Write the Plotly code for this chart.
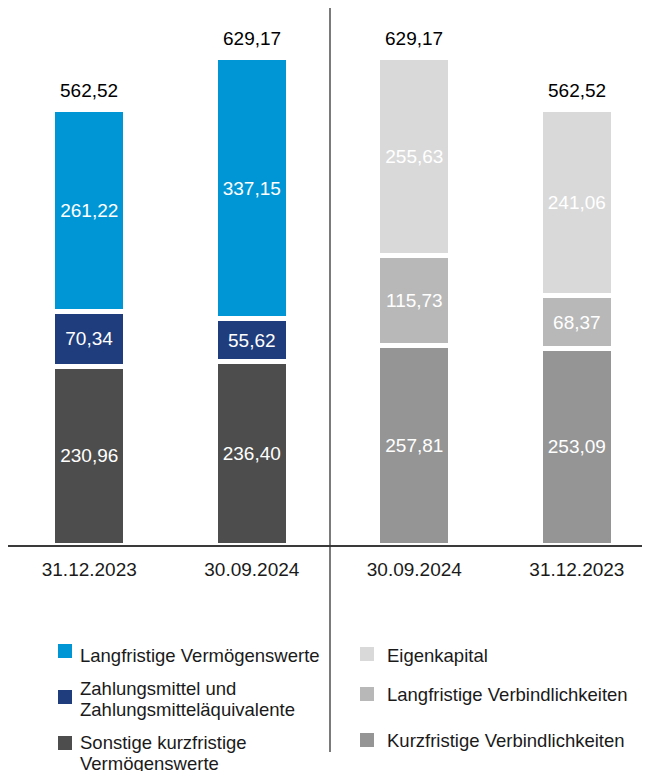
import plotly.graph_objects as go

# ---------------- data ----------------
categories = ["31.12.2023", "30.09.2024", "30.09.2024", "31.12.2023"]
asset_x = [0, 1]
liab_x = [2, 3]

sonstige_kurzfr = [230.96, 236.40]
zahlungsmittel = [70.34, 55.62]
langfr_vermoegen = [261.22, 337.15]

kurzfr_verbindl = [257.81, 253.09]
langfr_verbindl = [115.73, 68.37]
eigenkapital = [255.63, 241.06]

asset_names = ["Sonstige kurzfristige Vermögenswerte",
               "Zahlungsmittel und Zahlungsmitteläquivalente",
               "Langfristige Vermögenswerte"]
liab_names = ["Kurzfristige Verbindlichkeiten",
              "Langfristige Verbindlichkeiten",
              "Eigenkapital"]

asset_colors = ["#4D4D4D", "#1F3D7C", "#0096D6"]
liab_colors = ["#959595", "#B8B8B8", "#D9D9D9"]

# legend lines (display text, wrapped as in the original)
legend_left = [["Langfristige Vermögenswerte"],
               ["Zahlungsmittel und", "Zahlungsmitteläquivalente"],
               ["Sonstige kurzfristige", "Vermögenswerte"]]
legend_left_colors = ["#0096D6", "#1F3D7C", "#4D4D4D"]
legend_right = [["Eigenkapital"],
                ["Langfristige Verbindlichkeiten"],
                ["Kurzfristige Verbindlichkeiten"]]
legend_right_colors = ["#D9D9D9", "#B8B8B8", "#959595"]


def fmt(v):
    return f"{v:.2f}".replace(".", ",")


FONT = "Liberation Sans, Arial, sans-serif"
fig = go.Figure()

for name, vals, col in zip(asset_names,
                           [sonstige_kurzfr, zahlungsmittel, langfr_vermoegen],
                           asset_colors):
    fig.add_trace(go.Bar(x=asset_x, y=vals, name=name, marker_color=col,
                         marker_line=dict(color="white", width=5),
                         text=[fmt(v) for v in vals], textposition="inside",
                         insidetextanchor="middle", constraintext="none",
                         textfont=dict(color="white", size=19, family=FONT),
                         width=0.45, showlegend=False))

for name, vals, col in zip(liab_names,
                           [kurzfr_verbindl, langfr_verbindl, eigenkapital],
                           liab_colors):
    fig.add_trace(go.Bar(x=liab_x, y=vals, name=name, marker_color=col,
                         marker_line=dict(color="white", width=5),
                         text=[fmt(v) for v in vals], textposition="inside",
                         insidetextanchor="middle", constraintext="none",
                         textfont=dict(color="white", size=19, family=FONT),
                         width=0.45, showlegend=False))

asset_tot = [a + b + c for a, b, c in zip(sonstige_kurzfr, zahlungsmittel, langfr_vermoegen)]
liab_tot = [a + b + c for a, b, c in zip(kurzfr_verbindl, langfr_verbindl, eigenkapital)]
totals_x = asset_x + liab_x
totals = asset_tot + liab_tot

# page offset (browser body margin) and figure geometry
OFF = 8
W, H = 650 - OFF, 771 - OFF
ml, mr, mt, mb = 0, 0, 0, H - (545 - OFF)
pw, ph = W - ml - mr, H - mt - mb


def px_x(page_x):
    return (page_x - OFF - ml) / pw


def px_y(page_y):
    return (H - mb - (page_y - OFF)) / ph


shapes = []
annotations = []

# totals above bars
for xv, tv in zip(totals_x, totals):
    annotations.append(dict(x=xv, y=tv, text=fmt(tv), showarrow=False,
                            xanchor="center", yanchor="bottom", yshift=6,
                            font=dict(color="black", size=19, family=FONT)))

# vertical divider
shapes.append(dict(type="line", xref="paper", yref="paper",
                   x0=px_x(330), x1=px_x(330), y0=px_y(8), y1=px_y(752),
                   line=dict(color="#333333", width=1.3)))


# custom legend
def add_legend(items, colors, sq_x, txt_x, line_ys, sq_ys):
    for lines, col, ly, sy in zip(items, colors, line_ys, sq_ys):
        shapes.append(dict(type="rect", xref="paper", yref="paper",
                           x0=px_x(sq_x), x1=px_x(sq_x + 14),
                           y0=px_y(sy + 7), y1=px_y(sy - 7),
                           fillcolor=col, line=dict(width=0)))
        for i, t in enumerate(lines):
            annotations.append(dict(text=t, xref="paper", yref="paper",
                                    x=px_x(txt_x), y=px_y(ly + 21 * i),
                                    xanchor="left", yanchor="middle",
                                    showarrow=False,
                                    font=dict(size=18.5, color="#1a1a1a", family=FONT)))


add_legend(legend_left, legend_left_colors, 58, 78, [655, 688, 742], [651, 697, 743])
add_legend(legend_right, legend_right_colors, 360, 385, [655, 694, 740], [654, 694, 740])

fig.update_layout(
    width=W, height=H,
    margin=dict(l=ml, r=mr, t=mt, b=mb),
    barmode="stack",
    plot_bgcolor="white", paper_bgcolor="white",
    font=dict(family=FONT),
    shapes=shapes, annotations=annotations,
    xaxis=dict(range=[-0.5, 3.45], tickvals=totals_x, ticktext=categories,
               tickfont=dict(size=19, color="#1a1a1a", family=FONT),
               showline=True, linecolor="#3a3a3a", linewidth=1.5,
               showgrid=False, zeroline=False, ticks="", ticklabelstandoff=6,
               fixedrange=True),
    yaxis=dict(range=[0, (545 - OFF) / 0.775], visible=False, showgrid=False,
               zeroline=False, fixedrange=True),
    showlegend=False,
)

fig.write_html("out.html")
